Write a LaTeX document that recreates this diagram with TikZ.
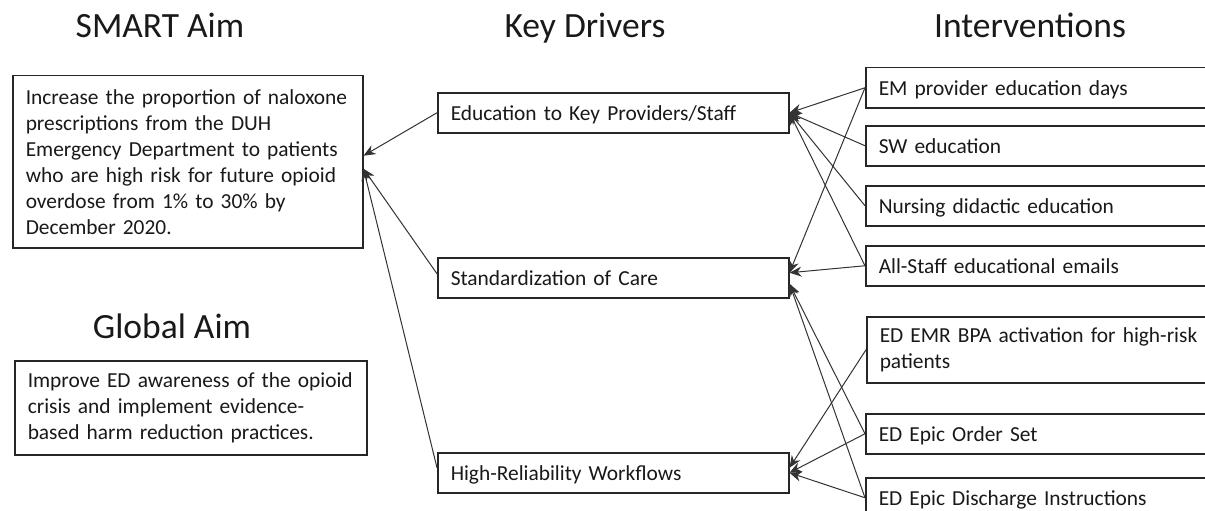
\documentclass[tikz,border=0pt]{standalone}
\usepackage{fontspec}
\setmainfont{Carlito}
\usetikzlibrary{arrows.meta}
\newcommand{\bodyfont}{\fontsize{21.4}{26}\selectfont}
\newcommand{\titlefont}{\fontsize{35.5}{42}\selectfont}
\newcommand{\tln}[1]{\mbox{#1}}
\begin{document}
\begin{tikzpicture}[x=1pt,y=-1pt,
  box/.style={draw=black!85, line width=1.5pt, anchor=north west, inner xsep=13pt, inner ysep=0pt, align=left, font=\bodyfont, text=black!90},
  one/.style={text height=18pt, text depth=2pt},
  conn/.style={draw=black!80, line width=1pt, -{Stealth[length=12pt,width=10pt]}},
  title/.style={font=\titlefont, anchor=base, inner sep=0pt, text=black!90}]
\useasboundingbox (0,0) rectangle (1205,511);
\clip (0,0) rectangle (1205,511);
\fill[white] (0,0) rectangle (1205,511);
% titles
\node[title] (t1) at (160,38) {SMART Aim};
\node[title] (t2) at (585,38) {Key Drivers};
\node[title] (t3) at (1030,38) {Interventions};
\node[title] (t4) at (172,338) {Global Aim};
% aims
\node[box, minimum width=350pt, minimum height=172pt, text width=324pt] (smart) at (12,75)
  {\tln{Increase the proportion of naloxone}\\\tln{prescriptions from the DUH}\\\tln{Emergency Department to patients}\\\tln{who are high risk for future opioid}\\\tln{overdose from 1\% to 30\% by}\\\tln{December 2020.}};
\node[box, minimum width=352pt, minimum height=94pt, text width=326pt] (global) at (14,360)
  {\tln{Improve ED awareness of the opioid}\\\tln{crisis and implement evidence-}\\\tln{based harm reduction practices.}};
% key drivers
\node[box, one, minimum width=351pt, minimum height=40pt, text width=325pt] (edu) at (437,92) {\tln{Education to Key Providers/Staff}};
\node[box, one, minimum width=351pt, minimum height=40pt, text width=325pt] (std) at (437,257) {\tln{Standardization of Care}};
\node[box, one, minimum width=351pt, minimum height=40pt, text width=325pt] (hrw) at (437,452) {\tln{High-Reliability Workflows}};
% interventions
\node[box, one, minimum width=350pt, minimum height=40pt, text width=324pt] (em) at (865,67) {\tln{EM provider education days}};
\node[box, one, minimum width=350pt, minimum height=40pt, text width=324pt] (sw) at (865,125) {\tln{SW education}};
\node[box, one, minimum width=350pt, minimum height=40pt, text width=324pt] (nur) at (865,185) {\tln{Nursing didactic education}};
\node[box, one, minimum width=350pt, minimum height=40pt, text width=324pt] (all) at (865,245) {\tln{All-Staff educational emails}};
\node[box, minimum width=350pt, minimum height=66pt, text width=324pt] (emr) at (866,316) {\tln{ED EMR BPA activation for high-risk}\\\tln{patients}};
\node[box, one, minimum width=350pt, minimum height=40pt, text width=324pt] (ord) at (865,413) {\tln{ED Epic Order Set}};
\node[box, one, minimum width=350pt, minimum height=40pt, text width=324pt] (dis) at (865,477) {\tln{ED Epic Discharge Instructions}};
% drivers to aim
\draw[conn] (edu.west) -- ([yshift=6pt]smart.east);
\draw[conn] ([yshift=4pt]std.west) -- ([yshift=-7pt]smart.east);
\draw[conn] ([yshift=5pt]hrw.west) -- ([yshift=-7pt]smart.east);
% interventions to drivers
\draw[conn] (em.west) -- (edu.east);
\draw[conn] (sw.west) -- (edu.east);
\draw[conn] (nur.west) -- (edu.east);
\draw[conn] (all.west) -- (edu.east);
\draw[conn] (em.west) -- ([yshift=5pt]std.east);
\draw[conn] (all.west) -- ([yshift=5pt]std.east);
\draw[conn] (ord.west) -- ([yshift=-6pt]std.east);
\draw[conn] (dis.west) -- ([yshift=-6pt]std.east);
\draw[conn] (emr.west) -- ([yshift=5pt]hrw.east);
\draw[conn] (ord.west) -- (hrw.east);
\draw[conn] (dis.west) -- (hrw.east);
\end{tikzpicture}
\end{document}
